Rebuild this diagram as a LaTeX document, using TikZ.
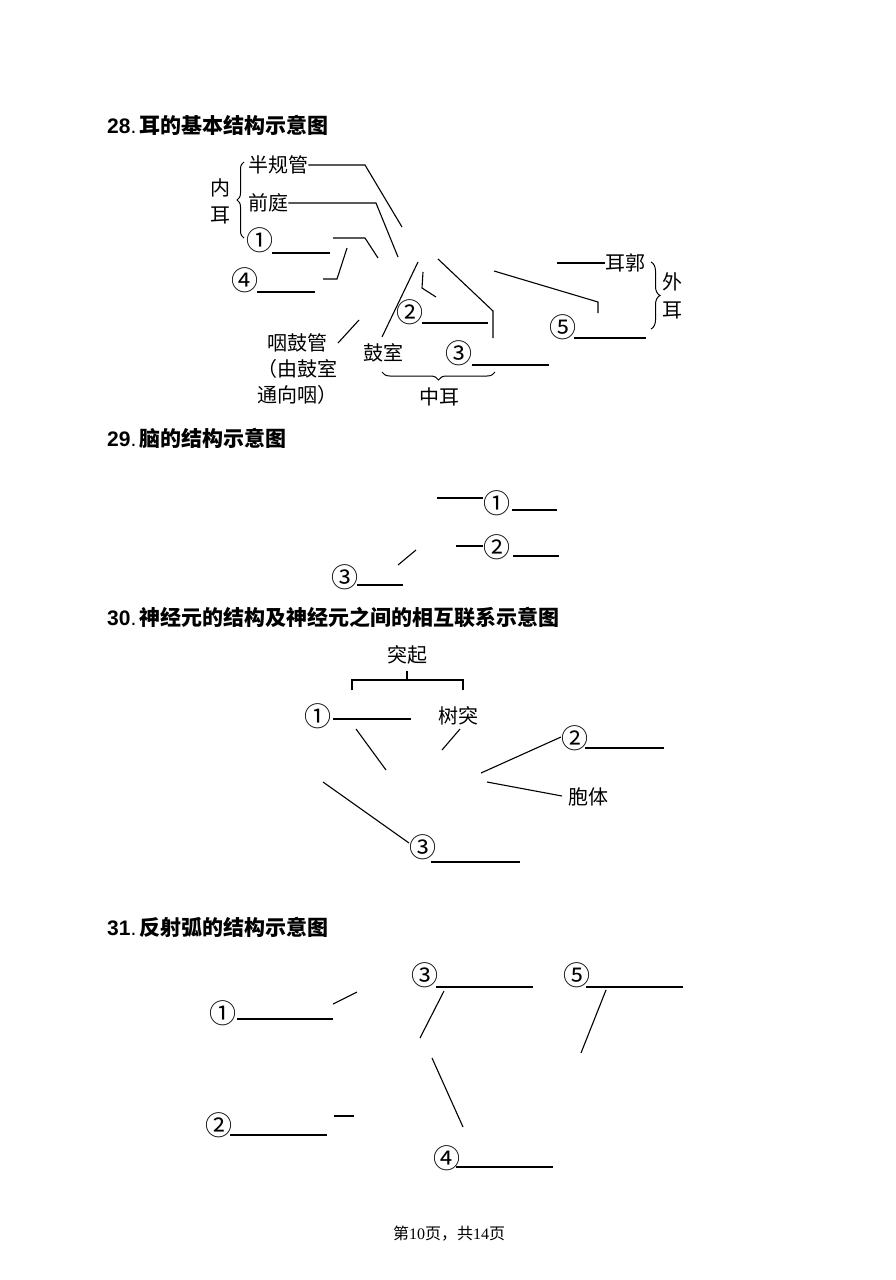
\documentclass[tikz,border=0pt]{standalone}
\usepackage{fontspec}
\setmainfont{Liberation Serif}
\newfontfamily\cjk{Noto Sans CJK SC}
\newfontfamily\numfont{Liberation Sans}
\usetikzlibrary{decorations.pathreplacing}

\tikzset{
  lbl/.style={inner sep=0pt, font=\cjk\fontsize{20}{26}\selectfont},
  circ/.style={inner sep=0pt, font=\cjk\fontsize{27}{27}\selectfont},
  ttl/.style={anchor=west, inner sep=0pt, font=\fontsize{21}{24}\selectfont},
  lead/.style={line width=1.1pt},
  blank/.style={line width=1.4pt},
  bracedeco/.style={decorate, decoration={brace, amplitude=#1}, line width=1pt},
}

\newcommand{\ttltext}[2]{{\numfont\bfseries #1}{\numfont .}\,{\cjk\bfseries #2}}

\begin{document}
\begin{tikzpicture}[x=1pt,y=-1pt]
  \useasboundingbox[fill=white] (0,0) rectangle (895,1280);

  % 28 ear
  \node[ttl] (t28) at (107,125) {\ttltext{28}{耳的基本结构示意图}};

  \node[lbl] (nei) at (220,188) {内};
  \node[lbl] (neier) at (220,215) {耳};
  \draw[bracedeco=7pt] (244,238) -- (244,162);
  \node[lbl,anchor=west] (ban) at (248,165) {半规管};
  \node[lbl,anchor=west] (qian) at (248,203) {前庭};
  \node[circ] (e1) at (260,240) {①};
  \node[circ] (e4) at (245,280) {④};
  \node[circ] (e2) at (410,312) {②};
  \node[circ] (e3) at (459,353) {③};
  \node[circ] (e5) at (563,327) {⑤};
  \node[lbl] (gushi) at (383,353) {鼓室};
  \node[lbl,align=center] (yan) at (297,369) {咽鼓管\\（由鼓室\\通向咽）};
  \node[lbl] (zhong) at (439,397) {中耳};
  \node[lbl] (erguo) at (625,263) {耳郭};
  \node[lbl] (wai) at (672,282) {外};
  \node[lbl] (waier) at (672,310) {耳};

  \coordinate (a2) at (365,165);
  \coordinate (a3) at (402,227);
  \coordinate (b2) at (376,203);
  \coordinate (b3) at (398,257);
  \coordinate (c1) at (333,238);
  \coordinate (c2) at (365,238);
  \coordinate (c3) at (378,258);
  \coordinate (d1) at (323,279);
  \coordinate (d2) at (337,279);
  \coordinate (d3) at (347,248);
  \coordinate (g1) at (418,262);
  \coordinate (g2) at (382,337);
  \coordinate (h1) at (423,272);
  \coordinate (h2) at (422,288);
  \coordinate (h3) at (436,297);
  \coordinate (m1) at (438,259);
  \coordinate (m2) at (493,311);
  \coordinate (m3) at (493,338);
  \coordinate (y1) at (338,343);
  \coordinate (y2) at (359,320);
  \coordinate (w1) at (494,271);
  \coordinate (w2) at (598,302);
  \coordinate (w3) at (598,313);
  \coordinate (w4) at (557,263);

  \draw[lead] (ban.east) -- (a2) -- (a3);
  \draw[lead] (qian.east) -- (b2) -- (b3);
  \draw[lead] (c1) -- (c2) -- (c3);
  \draw[lead] (d1) -- (d2) -- (d3);
  \draw[lead] (g1) -- (g2);
  \draw[lead] (h1) -- (h2) -- (h3);
  \draw[lead] (m1) -- (m2) -- (m3);
  \draw[lead] (y1) -- (y2);
  \draw[lead] (w1) -- (w2) -- (w3);
  \draw[lead] (w4) -- (erguo.west);

  \draw[blank] (272,253) -- (330,253);
  \draw[blank] (257,292) -- (315,292);
  \draw[blank] (422,323) -- (488,323);
  \draw[blank] (472,365) -- (549,365);
  \draw[blank] (574,338) -- (646,338);

  \draw[bracedeco=8pt] (495,372) -- (382,372);
  \draw[bracedeco=9pt] (651,262) -- (651,329);

  % 29 brain
  \node[ttl] (t29) at (107,438) {\ttltext{29}{脑的结构示意图}};

  \node[circ] (b1) at (497,503) {①};
  \node[circ] (b2n) at (497,547) {②};
  \node[circ] (b3n) at (345,577) {③};
  \coordinate (p1) at (437,498);
  \coordinate (p2) at (456,546);
  \coordinate (p3) at (398,565);
  \coordinate (p4) at (416,550);
  \draw[lead] (p1) -- (b1.west |- p1);
  \draw[lead] (p2) -- (b2n.west |- p2);
  \draw[lead] (p3) -- (p4);
  \draw[blank] (512,510) -- (557,510);
  \draw[blank] (513,556) -- (559,556);
  \draw[blank] (357,585) -- (403,585);

  % 30 neuron
  \node[ttl] (t30) at (107,617) {\ttltext{30}{神经元的结构及神经元之间的相互联系示意图}};

  \node[lbl] (tuqi) at (407,655) {突起};
  \node[circ] (n1) at (318,716) {①};
  \node[lbl] (shutu) at (458,716) {树突};
  \node[circ] (n2) at (575,738) {②};
  \node[lbl] (baoti) at (588,797) {胞体};
  \node[circ] (n3) at (423,847) {③};

  \draw[lead] (352,690) -- (352,680) -- (463,680) -- (463,690);
  \draw[lead] (407,680) -- (407,671);

  \coordinate (q1) at (460,729);
  \coordinate (q2) at (442,750);
  \coordinate (q3) at (356,729);
  \coordinate (q4) at (386,770);
  \coordinate (q5) at (481,773);
  \coordinate (q6) at (561,737);
  \coordinate (q7) at (487,782);
  \coordinate (q8) at (562,796);
  \coordinate (q9) at (323,782);
  \coordinate (q10) at (409,843);
  \draw[lead] (q1) -- (q2);
  \draw[lead] (q3) -- (q4);
  \draw[lead] (q5) -- (q6);
  \draw[lead] (q7) -- (q8);
  \draw[lead] (q9) -- (q10);

  \draw[blank] (333,719) -- (411,719);
  \draw[blank] (585,748) -- (664,748);
  \draw[blank] (431,862) -- (520,862);

  % 31 reflex arc
  \node[ttl] (t31) at (107,927) {\ttltext{31}{反射弧的结构示意图}};

  \node[circ] (r1) at (223,1013) {①};
  \node[circ] (r2) at (219,1125) {②};
  \node[circ] (r3) at (425,975) {③};
  \node[circ] (r4) at (447,1158) {④};
  \node[circ] (r5) at (577,975) {⑤};

  \coordinate (s1) at (333,1004);
  \coordinate (s2) at (357,992);
  \coordinate (s3) at (444,991);
  \coordinate (s4) at (420,1038);
  \coordinate (s5) at (432,1058);
  \coordinate (s6) at (463,1127);
  \coordinate (s7) at (606,990);
  \coordinate (s8) at (581,1053);
  \coordinate (s9) at (334,1116);
  \coordinate (s10) at (354,1116);
  \draw[lead] (s1) -- (s2);
  \draw[lead] (s3) -- (s4);
  \draw[lead] (s5) -- (s6);
  \draw[lead] (s7) -- (s8);
  \draw[lead] (s9) -- (s10);

  \draw[blank] (237,1019) -- (333,1019);
  \draw[blank] (436,987) -- (533,987);
  \draw[blank] (586,987) -- (683,987);
  \draw[blank] (230,1135) -- (327,1135);
  \draw[blank] (456,1167) -- (553,1167);

  % footer
  \node[inner sep=0pt, font=\fontsize{16}{18}\selectfont] (foot) at (449,1234)
    {{\cjk 第}10{\cjk 页，共}14{\cjk 页}};
\end{tikzpicture}
\end{document}
